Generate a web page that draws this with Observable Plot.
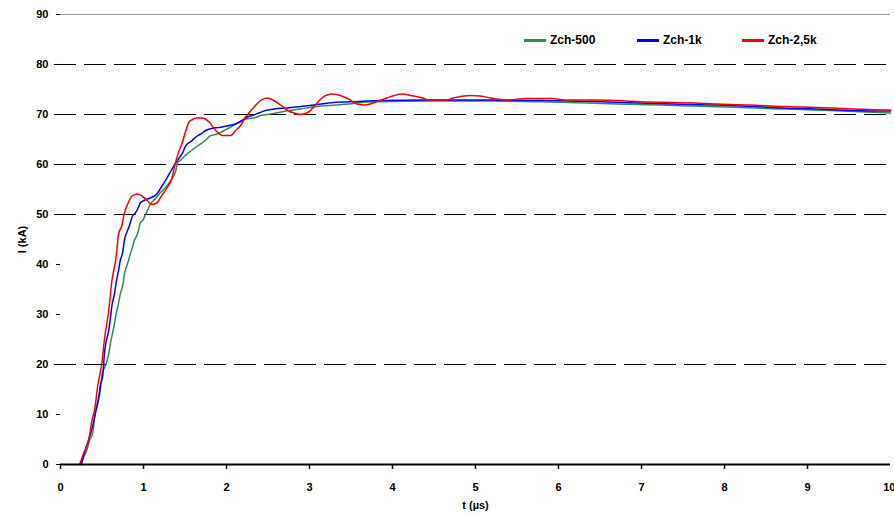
<!DOCTYPE html>
<html><head><meta charset="utf-8">
<script src="https://cdn.jsdelivr.net/npm/d3@7"></script>
<script src="https://cdn.jsdelivr.net/npm/@observablehq/plot@0.6"></script>
<style>
body{margin:0;background:#fff;font-family:"Liberation Sans",Arial,sans-serif;}
#wrap{position:relative;width:894px;height:517px;}
#legend{position:absolute;top:33px;left:524px;font:bold 12px "Liberation Sans",Arial,sans-serif;display:flex;align-items:center;}
.item{display:flex;align-items:center;margin-right:0;}
.sw{display:inline-block;width:22px;height:3px;margin-right:4px;}
</style></head>
<body><div id="wrap"><div id="legend"></div></div>
<script>
const seriesNames = ["Zch-500", "Zch-1k", "Zch-2,5k"];
const seriesColors = ["#2e8b57", "#0000ff", "#ff0000"];
const xTicks = [0,1,2,3,4,5,6,7,8,9];
const xLastTick = [10];
const yTicks = [0,10,20,30,40,50,60,70,80,90];
const dashedGrid = [20,50,60,70,80];

const tGreen = [0.24,0.26,0.31,0.35,0.39,0.41,0.44,0.48,0.50,0.55,0.58,0.60,0.63,0.65,0.67,0.70,0.72,0.75,0.77,0.80,0.82,0.84,0.87,0.89,0.92,0.94,0.96,0.99,1.04,1.08,1.14,1.20,1.27,1.33,1.39,1.41,1.45,1.49,1.57,1.65,1.73,1.81,1.89,1.97,2.05,2.13,2.23,2.33,2.41,2.53,2.69,2.89,3.09,3.33,3.47,3.71,4.5,5.2,5.9,6.71,7.23,7.63,8.03,8.35,8.71,9.07,9.41,9.86,10];
const iGreen = [0,0.8,2.5,4.8,6.5,9.3,11.5,14.8,18.1,20.1,22.1,24.1,26.5,28.1,30.1,32.3,34.1,35.8,38.1,39.8,40.8,42.1,43.6,44.8,45.8,46.8,48.3,48.8,50.5,52.0,53.1,54.3,55.5,56.8,58.8,60.3,60.9,61.6,62.7,63.7,64.6,65.8,66.1,66.8,67.5,68.3,69.1,69.3,69.8,70.1,70.6,71.1,71.6,71.9,72.1,72.5,72.7,72.7,72.5,72.1,71.9,71.7,71.5,71.3,71.1,70.9,70.7,70.4,70.3];

const tBlue = [0.25,0.27,0.29,0.33,0.36,0.39,0.41,0.43,0.46,0.48,0.51,0.53,0.55,0.58,0.60,0.62,0.65,0.67,0.70,0.72,0.75,0.77,0.80,0.82,0.84,0.87,0.89,0.92,0.94,0.96,1.02,1.08,1.16,1.22,1.29,1.33,1.38,1.43,1.47,1.51,1.57,1.63,1.69,1.75,1.85,1.95,2.03,2.11,2.19,2.25,2.31,2.39,2.47,2.57,2.73,2.89,3.05,3.29,3.60,3.86,4.5,5.2,5.86,6.59,7.39,7.91,8.35,8.71,9.11,9.56,9.92,10];
const iBlue = [0,1.1,2.5,4.5,6.1,7.8,9.5,11.1,13.5,15.8,17.9,22.3,24.6,26.7,29.1,31.8,34.1,36.3,38.9,40.8,42.5,44.9,46.5,47.3,48.3,49.8,50.1,50.8,51.5,52.3,52.9,53.3,54.1,55.6,57.5,58.7,60.1,61.3,62.3,63.8,64.6,65.5,66.1,66.8,67.3,67.5,67.8,68.1,68.8,69.5,69.8,70.3,70.8,71.1,71.3,71.6,71.9,72.4,72.6,72.8,72.9,72.9,72.8,72.5,72.1,71.9,71.6,71.3,71.1,70.8,70.7,70.7];

const tRed = [0.23,0.28,0.34,0.38,0.41,0.45,0.50,0.53,0.58,0.62,0.67,0.70,0.74,0.77,0.81,0.86,0.93,0.98,1.04,1.10,1.16,1.22,1.29,1.34,1.38,1.42,1.47,1.51,1.55,1.59,1.64,1.71,1.79,1.87,1.95,2.05,2.11,2.17,2.23,2.29,2.35,2.41,2.49,2.57,2.65,2.73,2.81,2.89,2.99,3.07,3.15,3.27,3.37,3.47,3.57,3.67,3.80,3.93,4.02,4.12,4.22,4.36,4.44,4.65,4.73,4.82,4.94,5.06,5.18,5.38,5.62,5.92,6.08,6.43,6.67,7.07,7.43,7.91,8.31,8.55,8.92,9.28,9.56,9.92,10];
const iRed = [0,2.3,4.9,8.9,10.8,15.9,20.5,25.1,30.6,36.8,41.5,46.1,47.8,50.3,52.1,53.7,54.1,53.7,52.9,52.0,52.3,53.8,55.5,57.1,60.1,62.3,64.5,66.8,68.5,69.0,69.3,69.3,68.5,66.8,65.8,65.8,66.8,67.8,69.5,70.7,71.8,72.8,73.3,72.8,71.9,70.9,70.3,70.0,70.5,71.9,73.3,74.1,73.8,73.1,72.1,71.9,72.5,73.3,73.8,74.1,73.8,73.3,72.9,72.9,73.3,73.6,73.8,73.7,73.3,72.9,73.2,73.2,72.9,72.9,72.8,72.5,72.4,72.1,71.9,71.7,71.5,71.3,71.1,70.9,70.9];

const rows = [];
[[tGreen,iGreen],[tBlue,iBlue],[tRed,iRed]].forEach(([ts,is],k)=>{
  ts.forEach((t,j)=>rows.push({t, I:is[j], s:seriesNames[k]}));
});

const chart = Plot.plot({
  width: 894, height: 517,
  marginLeft: 60, marginRight: 4, marginTop: 14, marginBottom: 53,
  style: {fontFamily: "'Liberation Sans', Arial, sans-serif", fontSize: "11px", fontWeight: "bold", background: "#fff", overflow: "visible"},
  x: {domain: [0,10]},
  y: {domain: [0,90]},
  color: {domain: seriesNames, range: seriesColors},
  marks: [
    Plot.ruleY(dashedGrid, {stroke: "#000", strokeWidth: 1, strokeDasharray: "22,8", x1: 0, x2: 10, insetLeft: -6}),
    Plot.ruleY([90], {stroke: "#999", strokeWidth: 1}),
    Plot.axisX({ticks: xTicks, tickSize: 5, tickPadding: 14, tickFormat: d3.format("d"), label: "t (µs)", labelAnchor: "center", labelOffset: 44, labelArrow: "none", stroke: "#000", strokeWidth: 1.5}),
    Plot.axisX({ticks: xLastTick, tickSize: 5, tickPadding: 14, tickFormat: d3.format("d"), label: null, stroke: "#000", strokeWidth: 1.5, textAnchor: "end", dx: 5}),
    Plot.axisY({ticks: yTicks, tickSize: 4, tickPadding: 8, tickFormat: d3.format("d"), label: "I (kA)", labelAnchor: "center", labelOffset: 42, labelArrow: "none"}),
    Plot.line(rows, {x: "t", y: "I", z: "s", stroke: "s", strokeWidth: 1.5, curve: "monotone-x"}),
    Plot.ruleY([0], {stroke: "#000", strokeWidth: 2})
  ]
});
document.getElementById("wrap").prepend(chart);

const leg = document.getElementById("legend");
seriesNames.forEach((n,k)=>{
  const it = document.createElement("span");
  it.className = "item";
  it.style.width = k<2 ? (k===0?"113px":"105px") : "auto";
  it.innerHTML = `<span class="sw" style="background:${seriesColors[k]}"></span><span>${n}</span>`;
  leg.appendChild(it);
});
</script>
</body></html>
